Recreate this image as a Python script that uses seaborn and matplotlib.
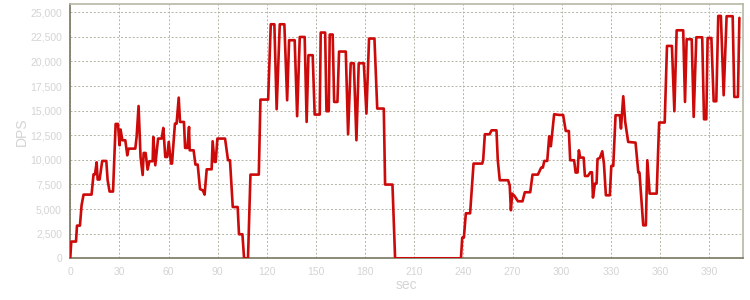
import matplotlib
matplotlib.use("Agg")
import matplotlib.pyplot as plt
import matplotlib.ticker as mticker
import seaborn as sns
import pandas as pd

sec = [0, 0.6, 3.5, 4.1, 5.9, 6.9, 8.1, 13.0, 14.2, 15.1, 16.1, 16.7, 17.9, 19.5, 22.0, 22.8, 24.0, 26.1,
       27.7, 29.1, 30.1, 30.7, 31.8, 33.6, 34.8, 35.6, 39.7, 40.5, 41.7, 42.9, 44.2, 44.8, 46.0, 47.2, 48.3,
       50.3, 50.7, 51.9, 53.6, 55.8, 56.8, 58.0, 59.2, 60.1, 61.5, 62.1, 63.9, 64.9, 66.2, 67.0, 69.4, 70.1,
       71.5, 72.5, 72.9, 75.3, 76.4, 77.8, 79.2, 81.0, 82.0, 83.3, 86.3, 86.9, 88.1, 88.8, 89.8, 94.5, 96.3,
       97.5, 99.2, 102.2, 103.0, 105.1, 106.1, 108.5, 110.0, 115.1, 116.1, 120.8, 122.4, 124.6, 126.0, 127.9,
       130.7, 132.4, 133.6, 137.0, 138.5, 140.1, 143.1, 144.3, 145.4, 148.0, 149.2, 152.3, 152.9, 155.6, 156.4,
       157.8, 158.4, 160.2, 161.1, 163.1, 164.1, 168.2, 169.6, 171.2, 173.1, 174.7, 176.1, 179.2, 180.8, 182.4,
       185.7, 187.4, 191.4, 192.2, 196.7, 198.3, 238.5, 239.3, 240.3, 241.5, 244.1, 246.2, 251.5, 252.1, 253.1,
       256.0, 257.2, 260.2, 261.0, 262.2, 267.3, 268.3, 269.0, 269.8, 271.2, 273.3, 276.1, 277.5, 280.8, 282.2,
       285.5, 287.5, 288.5, 289.4, 291.2, 292.4, 293.4, 295.4, 298.5, 300.9, 302.5, 304.4, 305.2, 307.6, 308.5,
       309.7, 310.5, 311.3, 313.4, 314.2, 316.0, 317.5, 318.5, 319.1, 320.3, 321.3, 321.9, 323.3, 324.8, 325.8,
       327.0, 329.4, 330.3, 331.5, 332.9, 335.5, 336.2, 337.6, 338.8, 340.6, 345.1, 346.8, 347.5, 349.8, 351.4,
       352.3, 353.7, 358.0, 359.5, 362.9, 364.3, 367.3, 368.8, 370.2, 374.2, 375.3, 376.3, 379.4, 380.6, 382.2,
       385.8, 386.9, 388.3, 389.1, 391.4, 392.8, 394.4, 395.6, 397.2, 398.9, 400.7, 404.4, 405.4, 407.6, 408.5]

dps = [0, 1700, 1700, 3320, 3320, 5380, 6470, 6470, 8530, 8530, 9750, 8000, 8000, 9890, 9890, 7930, 6780, 6780,
       13650, 13650, 11480, 13080, 11990, 11990, 10460, 11140, 11140, 12330, 15470, 10290, 8460, 10700, 10700,
       9010, 9860, 9860, 12330, 9450, 12160, 12160, 13240, 10290, 10290, 11820, 9620, 9620, 13680, 13680, 16320,
       13850, 13850, 11210, 11210, 13340, 10970, 10970, 9520, 9520, 7040, 6880, 6470, 9040, 9040, 11890, 9790,
       9790, 12160, 12160, 9960, 9960, 5210, 5210, 2440, 2440, 0, 0, 8500, 8500, 16120, 16120, 23770, 23770,
       15140, 23770, 23770, 16050, 22150, 22150, 14430, 22480, 22480, 13850, 20630, 20630, 14600, 14600, 22930,
       22930, 14940, 14940, 22730, 22730, 15880, 15880, 21000, 21000, 12600, 19810, 19810, 11990, 19810, 19810,
       14700, 22320, 22320, 15210, 15210, 7490, 7490, 0, 0, 2100, 2100, 4570, 4570, 9620, 9620, 10030, 12600,
       12600, 13000, 13000, 9960, 7930, 7930, 7380, 4880, 6570, 6330, 5790, 5790, 6710, 6710, 8500, 8500, 9210,
       9210, 9890, 9890, 12400, 11380, 14630, 14560, 14560, 12930, 12930, 9960, 9960, 8710, 8710, 10970, 10230,
       10230, 8360, 8360, 8740, 8740, 6170, 7590, 7590, 10090, 10190, 10870, 9620, 6400, 6400, 9380, 9380, 14530,
       14530, 13180, 16460, 13850, 11820, 11750, 8710, 8710, 3350, 3350, 9960, 6570, 6570, 13790, 13790, 21570,
       21570, 14940, 23160, 23160, 15880, 22250, 22250, 14360, 22450, 22450, 14120, 14120, 22380, 22380, 15950,
       15950, 24620, 24620, 16560, 24590, 24590, 16390, 16390, 24420]

x_ticks = [0, 30, 60, 90, 120, 150, 180, 210, 240, 270, 300, 330, 360, 390]
y_ticks = [0, 2500, 5000, 7500, 10000, 12500, 15000, 17500, 20000, 22500, 25000]

df = pd.DataFrame({"sec": sec, "DPS": dps})

sns.set_theme(style="white")
plt.rcParams["font.family"] = ["Liberation Sans", "DejaVu Sans"]

fig = plt.figure(figsize=(7.5, 3), dpi=100)
ax = fig.add_axes([0.0937, 0.139, 0.8963, 0.8467])
sns.lineplot(data=df, x="sec", y="DPS", ax=ax, color="#cc0a0a", linewidth=1.9,
             estimator=None, sort=False, zorder=3)

ax.set_xlim(0, 410.4)
ax.set_ylim(0, 25800)
ax.set_xticks(x_ticks)
ax.set_yticks(y_ticks)
ax.yaxis.set_major_formatter(mticker.FuncFormatter(lambda v, p: f"{int(v):,}"))

ax.grid(True, color="#b4b4a4", linestyle=(0, (2, 2)), linewidth=0.7)
ax.set_axisbelow(True)

for s in ["left", "bottom"]:
    ax.spines[s].set_color("#777760")
    ax.spines[s].set_linewidth(1.2)
for s in ["top", "right"]:
    ax.spines[s].set_color("#b8b8a6")
    ax.spines[s].set_linewidth(1.2)

ax.tick_params(axis="both", colors="#777760", labelcolor="#d4d4d4", labelsize=7.5,
               length=2, width=1, direction="out", pad=4)
ax.tick_params(axis="x", pad=4)

ax.set_xlabel("sec", color="#d4d4d4", fontsize=10, labelpad=1)
ax.set_ylabel("DPS", color="#d4d4d4", fontsize=10, labelpad=1)

fig.savefig("out.png", dpi=100, facecolor="white")
